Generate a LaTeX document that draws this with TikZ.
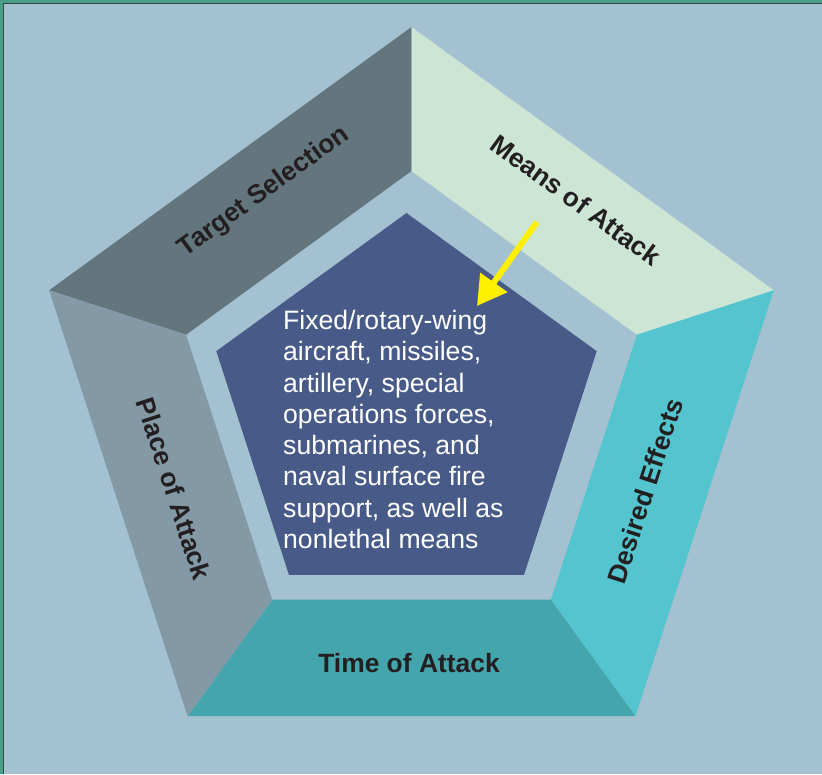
\documentclass[tikz,border=0pt]{standalone}
\usepackage{fontspec}
\setmainfont{Liberation Sans}
\usetikzlibrary{arrows.meta}
\definecolor{bgblue}{HTML}{A3C1D1}
\definecolor{framegreen}{HTML}{4A9E88}
\definecolor{framedark}{HTML}{2E4A48}
\definecolor{targetgrey}{HTML}{63767E}
\definecolor{meansgreen}{HTML}{CCE5D5}
\definecolor{effectcyan}{HTML}{54C4CE}
\definecolor{timeteal}{HTML}{44A5AD}
\definecolor{placegrey}{HTML}{8399A5}
\definecolor{corebl}{HTML}{485B88}
\definecolor{arrowyellow}{HTML}{FFF000}
\definecolor{labelink}{HTML}{231F20}
\begin{document}
\begin{tikzpicture}[x=1pt,y=1pt,
    seglabel/.style={font=\fontsize{26.4}{31}\selectfont\bfseries,text=labelink,inner sep=0pt},
    coretext/.style={font=\fontsize{26.6}{31.3}\selectfont,text=white,align=left,inner sep=0pt},
    pointer/.style={arrowyellow,line width=6pt,-{Triangle[width=32pt,length=29pt]}}]
      \fill[bgblue] (0,0) rectangle (822,774);
      \useasboundingbox (0,0) rectangle (822,774);
      \fill[framegreen] (0,771) rectangle (822,774);
      \fill[framegreen] (0,0) rectangle (3,774);
      \draw[framedark,line width=1pt] (3.5,0) -- (3.5,770.5) -- (822,770.5);
      \path[shift={(411.5,366)}]
        (90:381) coordinate (o1)
        (162:381) coordinate (o2)
        (234:381) coordinate (o3)
        (306:381) coordinate (o4)
        (18:381) coordinate (o5)
        (90:237) coordinate (i1)
        (162:237) coordinate (i2)
        (234:237) coordinate (i3)
        (306:237) coordinate (i4)
        (18:237) coordinate (i5);
      \path[shift={(406.5,361)}]
        (90:200) coordinate (c1)
        (162:200) coordinate (c2)
        (234:200) coordinate (c3)
        (306:200) coordinate (c4)
        (18:200) coordinate (c5);
      \begin{scope}
        \fill[targetgrey] (o2) -- (o1) -- (i1) -- (i2) -- cycle;
        \fill[meansgreen] (o1) -- (o5) -- (i5) -- (i1) -- cycle;
        \fill[effectcyan] (o5) -- (o4) -- (i4) -- (i5) -- cycle;
        \fill[timeteal] (o4) -- (o3) -- (i3) -- (i4) -- cycle;
        \fill[placegrey] (o3) -- (o2) -- (i2) -- (i3) -- cycle;
        \fill[corebl] (c1) -- (c2) -- (c3) -- (c4) -- (c5) -- cycle;
      \end{scope}
      \node[seglabel,rotate=36] (target) at (264,582) {Target Selection};
      \node[seglabel,rotate=-36] (means) at (576,574) {Means of Attack};
      \node[seglabel,rotate=72] (effects) at (645,283) {Desired Effects};
      \node[seglabel,rotate=-72] (place) at (174,285) {Place of Attack};
      \node[seglabel] (time) at (409,111) {Time of Attack};
      \node[coretext,anchor=north west] (means text) at (283,464)
        {Fixed/rotary-wing\\aircraft, missiles,\\artillery, special\\operations forces,\\submarines, and\\naval surface fire\\support, as well as\\nonlethal means};
      \coordinate (arrow tail) at (537,552);
      \coordinate (arrow tip) at (477,468);
      \draw[pointer] (arrow tail) -- (arrow tip);
    \end{tikzpicture}
\end{document}
